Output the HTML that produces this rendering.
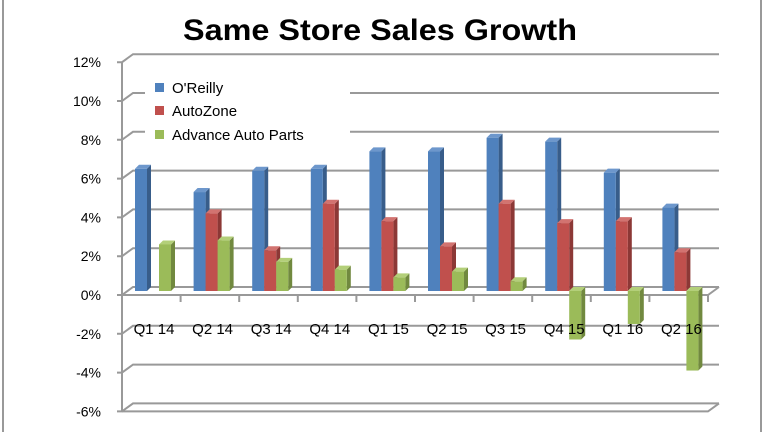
<!DOCTYPE html>
<html><head><meta charset="utf-8"><style>
html,body{margin:0;padding:0;background:#fff;}
svg{display:block;font-family:"Liberation Sans",sans-serif;}
</style></head><body>
<svg id="chart" width="764" height="432" viewBox="0 0 764 432">
<line x1="3" y1="0" x2="3" y2="432" stroke="#999" stroke-width="2"/>
<line x1="761" y1="0" x2="761" y2="432" stroke="#999" stroke-width="2"/>
<text x="380" y="40" text-anchor="middle" font-size="30" font-weight="bold" textLength="394" lengthAdjust="spacingAndGlyphs" fill="#000">Same Store Sales Growth</text>
<g id="grid"></g>
<g id="bars"></g>
<g id="labels"></g>
<g>
<rect x="145" y="76" width="205" height="70" fill="#fff"/>
<g><rect x="155" y="83" width="9" height="9" fill="#4f81bd"/><text x="172" y="93" font-size="15">O'Reilly</text></g>
<g><rect x="155" y="106" width="9" height="9" fill="#c0504d"/><text x="172" y="116" font-size="15">AutoZone</text></g>
<g><rect x="155" y="130" width="9" height="9" fill="#9bbb59"/><text x="172" y="140" font-size="15">Advance Auto Parts</text></g>
</g>
</svg>
<script>
const categories=["Q1 14","Q2 14","Q3 14","Q4 14","Q1 15","Q2 15","Q3 15","Q4 15","Q1 16","Q2 16"];
const oreilly=[6.3,5.1,6.2,6.3,7.2,7.2,7.9,7.7,6.1,4.3];
const autozone=[0,4.0,2.1,4.5,3.6,2.3,4.5,3.5,3.6,2.0];
const advance=[2.4,2.6,1.5,1.1,0.7,1.0,0.5,-2.5,-1.7,-4.1];
const ticks=[12,10,8,6,4,2,0,-2,-4,-6];
const seriesNames=["oreilly","autozone","advance"];

const NS="http://www.w3.org/2000/svg";
function mk(tag,attrs,parent){const e=document.createElementNS(NS,tag);for(const k in attrs)e.setAttribute(k,attrs[k]);parent.appendChild(e);return e;}
const FX0=122,FX1=708,DX=11,DY=8;
function yF(v){return 295-v*19.4;}
function xGroup(i){return FX0+i*(FX1-FX0)/categories.length;}
const grid=document.getElementById('grid');
// back wall gridlines with slanted ticks
ticks.forEach(t=>{
  const y=yF(t);
  const g=mk('g',{},grid);
  
  
  mk('polyline',{points:`${FX0-5},${y} ${FX0},${y} ${FX0+DX},${y-DY} ${FX1+DX},${y-DY}`,fill:'none',stroke:'#999','stroke-width':2},g);
  const tx=mk('text',{x:101,y:y+5,'text-anchor':'end','font-size':14,fill:'#000'},g);
  tx.textContent=t+'%';
  
  
});
// axes
const ax=mk('line',{x1:FX0,y1:yF(12),x2:FX0,y2:yF(-6),stroke:'#999','stroke-width':2},grid);


const fl=mk('polyline',{points:`${FX0},${yF(-6)} ${FX1},${yF(-6)} ${FX1+DX},${yF(-6)-DY}`,fill:'none',stroke:'#999','stroke-width':2},grid);


const xa=mk('polyline',{points:`${FX0},${yF(0)} ${FX1},${yF(0)} ${FX1+DX},${yF(0)-DY}`,fill:'none',stroke:'#999','stroke-width':2},grid);


for(let i=1;i<=categories.length;i++){
  const x=xGroup(i);
  const tk=mk('line',{x1:x,y1:yF(0),x2:x,y2:yF(0)+7,stroke:'#999','stroke-width':2},grid);
  
  
}
const bars=document.getElementById('bars');
const colors=[["#4f81bd","#385d8a","#6d97cc"],["#c0504d","#8c3836","#d27370"],["#9bbb59","#71893f","#b3cf79"]];
const data=[oreilly,autozone,advance];
const BW=12,D=4;
categories.forEach((c,i)=>{
  for(let s=0;s<3;s++){
    const v=data[s][i];
    if(v===0)continue;
    const x=xGroup(i)+13+s*BW;
    const base=yF(0)-4, top=yF(v)-4;
    const y1=Math.min(base,top),h=Math.abs(base-top);
    const g=mk('g',{},bars);
    
    
    mk('polygon',{points:`${x+BW},${y1} ${x+BW+D},${y1-D} ${x+BW+D},${y1+h-D} ${x+BW},${y1+h}`,fill:colors[s][1]},g);
    mk('polygon',{points:`${x},${y1} ${x+D},${y1-D} ${x+BW+D},${y1-D} ${x+BW},${y1}`,fill:colors[s][2]},g);
    mk('rect',{x:x,y:y1,width:BW,height:h,fill:colors[s][0]},g);
  }
});
const labels=document.getElementById('labels');
categories.forEach((c,i)=>{
  const t=mk('text',{x:xGroup(i)+32,y:334,'text-anchor':'middle','font-size':15,fill:'#000'},labels);
  t.textContent=c;
  
  
});
</script>
</body></html>
